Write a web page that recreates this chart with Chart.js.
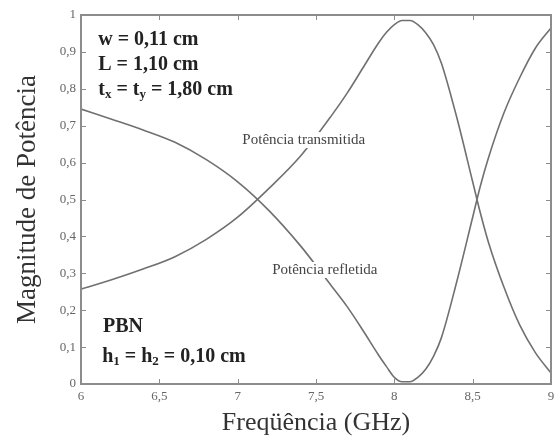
<!DOCTYPE html>
<html lang="pt">
<head>
  <meta charset="UTF-8" />
  <title>Magnitude de Potência</title>
  <script src="https://cdn.jsdelivr.net/npm/chart.js"></script>
  <style>
    html, body { margin: 0; padding: 0; background: #fff; }
    canvas { display: block; }
  </style>
</head>
<body>
  <canvas id="grafico" width="555" height="440"></canvas>

  <script>
    // valores (GHz / magnitude)
    const freq = [6.0, 6.2, 6.4, 6.6, 6.8, 7.0, 7.2, 7.4, 7.6, 7.7, 7.8, 7.9, 7.95, 8.0, 8.05, 8.1, 8.15, 8.2, 8.25, 8.3, 8.4, 8.5, 8.55, 8.6, 8.7, 8.8, 8.9, 9.0];
    const transmitida = [0.257, 0.283, 0.312, 0.345, 0.392, 0.452, 0.530, 0.617, 0.728, 0.789, 0.857, 0.925, 0.953, 0.974, 0.985, 0.985, 0.974, 0.952, 0.920, 0.870, 0.720, 0.548, 0.462, 0.385, 0.262, 0.160, 0.085, 0.030];
    const refletida = [0.745, 0.717, 0.688, 0.655, 0.608, 0.548, 0.470, 0.375, 0.265, 0.209, 0.145, 0.078, 0.047, 0.018, 0.006, 0.006, 0.018, 0.040, 0.075, 0.125, 0.280, 0.452, 0.538, 0.612, 0.735, 0.830, 0.910, 0.965];
    const xTicks = [6, 6.5, 7, 7.5, 8, 8.5, 9];
    const yTicks = [0, 0.1, 0.2, 0.3, 0.4, 0.5, 0.6, 0.7, 0.8, 0.9, 1];

    const serif = '"Liberation Serif", "DejaVu Serif", serif';
    const virgula = v => String(Math.round(v * 10) / 10).replace('.', ',');
    const pontos = ys => freq.map((f, i) => ({ x: f, y: ys[i] }));

    // moldura, marcas internas e textos
    const extras = {
      id: 'extras',
      afterDatasetsDraw(chart) {
        const { ctx, chartArea: a, scales: { x, y } } = chart;
        ctx.save();

        // rótulos das curvas (com fundo branco cortando a linha)
        ctx.font = '15px ' + serif;
        ctx.textBaseline = 'middle';
        ctx.textAlign = 'left';
        [['Potência transmitida', 7.03, 0.661], ['Potência refletida', 7.22, 0.309]].forEach(([t, fx, fy]) => {
          const px = x.getPixelForValue(fx), py = y.getPixelForValue(fy);
          const w = ctx.measureText(t).width;
          ctx.fillStyle = '#fff';
          ctx.fillRect(px - 2, py - 8, w + 4, 16);
          ctx.fillStyle = '#444';
          ctx.fillText(t, px, py);
        });

        // parâmetros em negrito
        ctx.fillStyle = '#222';
        const negrito = sz => 'bold ' + sz + 'px ' + serif;
        const escreve = (partes, fx, fy) => {
          let px = x.getPixelForValue(fx);
          const py = y.getPixelForValue(fy);
          partes.forEach(([t, sub]) => {
            ctx.font = negrito(sub ? 13 : 20);
            ctx.fillText(t, px, sub ? py + 5 : py);
            px += ctx.measureText(t).width;
          });
        };
        escreve([['w = 0,11 cm']], 6.11, 0.932);
        escreve([['L = 1,10 cm']], 6.11, 0.864);
        escreve([['t'], ['x', 1], [' = t'], ['y', 1], [' = 1,80 cm']], 6.11, 0.797);
        escreve([['PBN']], 6.14, 0.154);
        escreve([['h'], ['1', 1], [' = h'], ['2', 1], [' = 0,10 cm']], 6.135, 0.073);

        // moldura
        ctx.strokeStyle = '#8c8c8c';
        ctx.lineWidth = 2;
        ctx.strokeRect(a.left, a.top, a.right - a.left, a.bottom - a.top);

        // marcas para dentro nos quatro lados
        ctx.lineWidth = 1;
        ctx.beginPath();
        x.ticks.forEach(t => {
          const px = Math.round(x.getPixelForValue(t.value)) + 0.5;
          ctx.moveTo(px, a.bottom); ctx.lineTo(px, a.bottom - 5);
          ctx.moveTo(px, a.top); ctx.lineTo(px, a.top + 5);
        });
        y.ticks.forEach(t => {
          const py = Math.round(y.getPixelForValue(t.value)) + 0.5;
          ctx.moveTo(a.left, py); ctx.lineTo(a.left + 5, py);
          ctx.moveTo(a.right, py); ctx.lineTo(a.right - 5, py);
        });
        ctx.stroke();
        ctx.restore();
      }
    };

    const linha = {
      borderColor: '#707070',
      borderWidth: 1.6,
      pointRadius: 0,
      fill: false,
      cubicInterpolationMode: 'monotone'
    };

    new Chart(document.getElementById('grafico'), {
      type: 'line',
      data: {
        datasets: [
          { label: 'Potência transmitida', data: pontos(transmitida), ...linha },
          { label: 'Potência refletida', data: pontos(refletida), ...linha }
        ]
      },
      options: {
        responsive: false,
        animation: false,
        layout: { padding: { left: 0, right: 4, top: 15, bottom: 0 } },
        plugins: { legend: { display: false }, tooltip: { enabled: false } },
        scales: {
          x: {
            type: 'linear',
            min: 6,
            max: 9,
            afterBuildTicks: s => { s.ticks = xTicks.map(v => ({ value: v })); },
            afterFit: s => { s.height = 56; s.paddingLeft = 0; s.paddingRight = 0; },
            grid: { display: false, drawTicks: false },
            border: { display: false },
            ticks: { callback: virgula, padding: 5, color: '#666', font: { family: serif, size: 13 }, maxRotation: 0 },
            title: { display: true, text: 'Freqüência (GHz)', color: '#333', font: { family: serif, size: 26 }, padding: { top: 0, bottom: 1 } }
          },
          y: {
            min: 0,
            max: 1,
            afterBuildTicks: s => { s.ticks = yTicks.map(v => ({ value: v })); },
            afterFit: s => { s.width = 81; s.paddingTop = 0; s.paddingBottom = 0; },
            grid: { display: false, drawTicks: false },
            border: { display: false },
            ticks: { callback: virgula, padding: 5, color: '#666', font: { family: serif, size: 13 } },
            title: { display: true, text: 'Magnitude de Potência', color: '#333', font: { family: serif, size: 27 }, padding: { top: 12, bottom: 0 } }
          }
        }
      },
      plugins: [extras]
    });
  </script>
</body>
</html>
